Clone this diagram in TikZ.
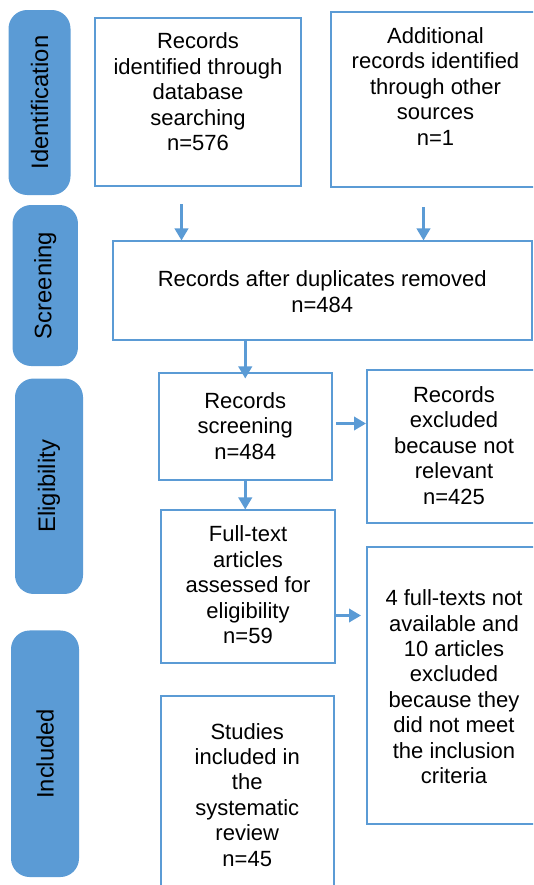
\documentclass[tikz,border=0pt]{standalone}
\usepackage{fontspec}
\setmainfont{Liberation Sans}
\usetikzlibrary{arrows.meta,calc}
\definecolor{pblue}{HTML}{5B9BD5}
\newcommand\bxt[4]{\parbox[c][#2][t]{#1}{\centering\rule{0pt}{#3}#4\par}}
\begin{document}
\begin{tikzpicture}[x=0.75pt,y=-0.75pt,
  box/.style={draw=pblue, line width=1.5pt, inner sep=0pt, font=\fontsize{16.5pt}{19.1pt}\selectfont},
  pill/.style={fill=pblue, draw=none, rounded corners=14pt, rotate=90, inner sep=0pt, font=\fontsize{17.85pt}{20pt}\selectfont},
  arr/.style={draw=pblue, line width=2pt, -{Triangle[length=9pt,width=10pt]}}]
\useasboundingbox (0,0) rectangle (533,885);
\clip (0,0) rectangle (533,885);
% phase labels
\node[pill, minimum width=138.75pt, minimum height=46.5pt] (p1) at (39.5,102.5) {Identification};
\node[pill, minimum width=120.75pt, minimum height=49.1pt] (p2) at (45.25,285.5) {Screening};
\node[pill, minimum width=161.6pt, minimum height=51pt] (p3) at (49,486.25) {Eligibility};
\node[pill, minimum width=184.9pt, minimum height=51pt] (p4) at (45,753.75) {Included};
% boxes
\node[box] (b1) at (198,102) {\bxt{154.5pt}{126pt}{22.95pt}{Records\\identified through\\database\\searching\\n=576}};
\node[box] (b2) at (435.5,99.5) {\bxt{156.75pt}{131.25pt}{23.6pt}{Additional\\records identified\\through other\\sources\\n=1}};
\node[box] (b3) at (322.25,290.75) {\bxt{313.9pt}{73.9pt}{34.1pt}{Records after duplicates removed\\n=484}};
\node[box] (b4) at (245.25,426.75) {\bxt{130.1pt}{79.9pt}{26.25pt}{Records\\screening\\n=484}};
\node[box] (b5) at (454,446.25) {\bxt{130.5pt}{115.1pt}{24.75pt}{Records\\excluded\\because not\\relevant\\n=425}};
\node[box] (b6) at (248,586.75) {\bxt{130.5pt}{114.4pt}{23.6pt}{Full-text\\articles\\assessed for\\eligibility\\n=59}};
\node[box] (b7) at (454,685.5) {\bxt{130.5pt}{207.75pt}{43.9pt}{4 full-texts not\\available and\\10 articles\\excluded\\because they\\did not meet\\the inclusion\\criteria}};
\node[box] (b8) at (247.25,800.5) {\bxt{130.1pt}{156.75pt}{32.25pt}{Studies\\included in\\the\\systematic\\review\\n=45}};
% connectors
\coordinate (s1) at (181.5,204);
\draw[arr] (s1) -- (s1 |- b3.north);
\coordinate (s2) at (423.5,207);
\draw[arr] (s2) -- (s2 |- b3.north);
\draw[arr] (b3.south -| b4.north) -- ($(b4.north)+(0,6)$);
\coordinate (s4) at (336,423.5);
\draw[arr] (s4) -- (s4 -| b5.west);
\draw[arr] (b4.south) -- (b4.south |- b6.north);
\coordinate (s6) at (335,615.5);
\draw[arr] (s6) -- ($(s6 -| b7.west)+(-5,0)$);
\end{tikzpicture}
\end{document}
